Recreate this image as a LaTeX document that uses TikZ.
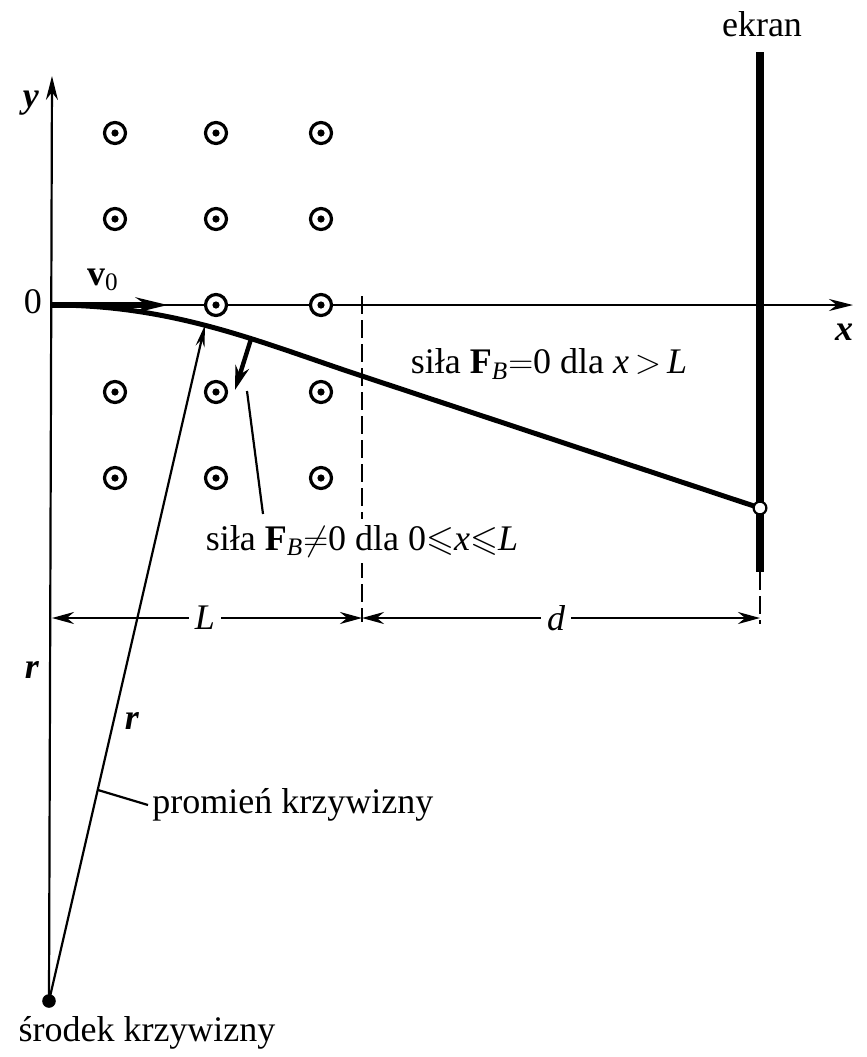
\documentclass[tikz,border=0pt]{standalone}
\usepackage{amssymb}
\usepackage{fontspec}
\setmainfont{Liberation Serif}
\usetikzlibrary{arrows.meta}
\begin{document}
\begin{tikzpicture}[x=0.5pt,y=-0.5pt,
  font=\fontsize{18}{21}\selectfont,
  thinline/.style={line width=1.1pt},
  axis/.style={thinline,-{Stealth[length=12pt,width=6pt]}},
  bfield/.style={circle,draw,fill=white,line width=1.6pt,minimum size=10.5pt,inner sep=0pt,
     path picture={\fill[black] (path picture bounding box.center) circle (1.8pt);}},
  traj/.style={line width=2.5pt,line join=round},
  force/.style={line width=2.2pt,-{Stealth[length=12pt,width=7pt]}},
  dimline/.style={thinline,{Stealth[length=11pt,width=6pt]}-{Stealth[length=11pt,width=6pt]}},
  dashline/.style={thinline,dash pattern=on 9pt off 3pt},
  lbl/.style={inner sep=1pt},
  dimlbl/.style={fill=white,inner sep=3pt,font=\fontsize{18}{21}\selectfont\itshape}]
\useasboundingbox (0,0) rectangle (867,1057);
% key points
\coordinate (O) at (52,305);
\coordinate (C) at (49,1001);
\coordinate (ytip) at (52,76);
\coordinate (xtip) at (853,305);
\coordinate (P) at (362,376);
\coordinate (S) at (760,508);
\coordinate (R) at (205,325);
\coordinate (scrtop) at (760,52);
\coordinate (scrbot) at (760,572);
\coordinate (dtop) at (362,296);
\coordinate (dbot) at (362,622);
\coordinate (sdtop) at (760,572);
\coordinate (sdbot) at (760,624);
\coordinate (DL) at (52,618);
\coordinate (DM) at (362,618);
\coordinate (DR) at (760,618);
\coordinate (V) at (168,305);
\coordinate (F1) at (251,339);
\coordinate (F2) at (235,390);
\coordinate (LD1) at (247,391);
\coordinate (LD2) at (263,514);
\coordinate (PR1) at (98,790);
\coordinate (PR2) at (148,805);
% axes
\draw[axis] (C) -- (ytip);
\draw[axis] (O) -- (xtip);
% dashed lines
\draw[dashline] (dtop) -- (dbot);
\draw[dashline] (sdtop) -- (sdbot);
% screen
\draw[line width=4pt] (scrtop) -- (scrbot);
% field
\foreach \c/\x in {1/115,2/216,3/321}{
  \foreach \r/\y in {1/133,2/219,4/392,5/478}{
    \node[bfield] (b\r\c) at (\x,\y) {};
  }
}
\node[bfield] (b32) at (216,305) {};
\node[bfield] (b33) at (321,305) {};
% trajectory
\draw[traj] (O) .. controls (175,305) and (262,343) .. (P) -- (S);
\draw[line width=2.8pt,-{Stealth[length=16pt,width=7.5pt]}] (O) -- (V);
\draw[fill=white,line width=1.1pt] (S) circle (3.2pt);
% force
\draw[force] (F1) -- (F2);
\draw[thinline] (LD1) -- (LD2);
% radius
\draw[thinline,-{Stealth[length=11pt,width=4.5pt]}] (C) -- (R);
\fill (C) circle (3.4pt);
\draw[thinline] (PR1) -- (PR2);
% dimensions
\draw[dimline] (DL) -- (DM);
\draw[dimline] (DM) -- (DR);
\node[dimlbl] (Llab) at (205,618) {L};
\node[dimlbl] (dlab) at (556,618) {d};
% labels
\node[lbl] (ylab) at (31,103) {\textit{\textbf{y}}};
\node[lbl] (olab) at (33,302) {0};
\node[lbl] (xlab) at (844,332) {\textit{\textbf{x}}};
\node[lbl] (vlab) at (103,280) {\textbf{v}\textsubscript{0}};
\node[lbl] (f0lab) at (549,364) {siła \textbf{F}\textsubscript{\textit{B}}$=$0 dla \textit{x}$\,>\,$\textit{L}};
\node[lbl,fill=white,inner sep=3pt] (f1lab) at (362,541) {siła \textbf{F}\textsubscript{\textit{B}}$\neq$0 dla 0$\leqslant$\textit{x}$\leqslant$\textit{L}};
\node[lbl] (r1lab) at (32,670) {\textit{\textbf{r}}};
\node[lbl] (r2lab) at (132,721) {\textit{\textbf{r}}};
\node[lbl,anchor=west] (prlab) at (150,805) {promień krzywizny};
\node[lbl] (srlab) at (147,1033) {środek krzywizny};
\node[lbl] (ekran) at (762,24) {ekran};
\end{tikzpicture}
\end{document}
